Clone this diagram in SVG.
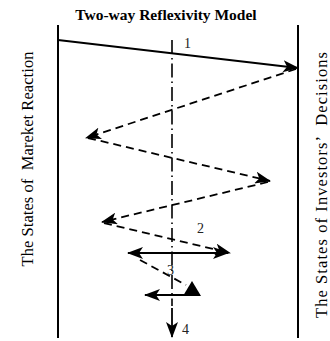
<svg xmlns="http://www.w3.org/2000/svg" width="330" height="341" viewBox="0 0 330 341">
<style>
.t{font-family:"Liberation Serif","Times New Roman",serif;fill:#000;white-space:pre}
.lbl{font-family:"Liberation Serif","Times New Roman",serif;font-size:14px;fill:#222}
.ax{stroke:#000;stroke-width:2;fill:none}
.sol{stroke:#000;stroke-width:1.8;fill:none}
.dsh{stroke:#000;stroke-width:1.8;fill:none;stroke-dasharray:8 5}
.cen{stroke:#000;stroke-width:1.6;fill:none;stroke-dasharray:14 4 1.5 4}
</style>
<defs>
<marker id="ah" markerUnits="userSpaceOnUse" markerWidth="16" markerHeight="12" refX="15" refY="6" orient="auto">
<path d="M0,0 L16,6 L0,12 L4,6 z" fill="#000"/>
</marker>
</defs>
<text class="t" x="166" y="20" font-size="15.5" font-weight="bold" text-anchor="middle">Two-way Reflexivity Model</text>
<g id="left-axis">
<line class="ax" x1="58" y1="25" x2="58" y2="338"/>
<text class="t" xml:space="preserve" font-size="16.5" text-anchor="middle" textLength="215" lengthAdjust="spacing" transform="translate(33,159) rotate(-90)">The States of  Mareket Reaction</text>
</g>
<g id="right-axis">
<line class="ax" x1="298" y1="25" x2="298" y2="338"/>
<text class="t" xml:space="preserve" font-size="16.5" text-anchor="middle" textLength="266" lengthAdjust="spacing" transform="translate(327,185) rotate(-90)">The States of Investors’  Decisions</text>
</g>
<g id="center-axis">
<line class="cen" x1="172" y1="40" x2="172" y2="306"/>
</g>
<g id="connectors">
<line class="sol" x1="58" y1="40" x2="298" y2="68" marker-end="url(#ah)"/>
<line class="dsh" x1="296" y1="69" x2="86" y2="138" marker-end="url(#ah)"/>
<line class="dsh" x1="88" y1="138" x2="270" y2="181" marker-end="url(#ah)"/>
<line class="dsh" x1="268" y1="182" x2="102" y2="222" marker-end="url(#ah)"/>
<line class="dsh" x1="104" y1="223" x2="230" y2="253" marker-end="url(#ah)"/>
<line class="sol" x1="172" y1="253" x2="128" y2="253" marker-end="url(#ah)"/>
<line class="sol" x1="172" y1="253" x2="228" y2="253" marker-end="url(#ah)"/>
<line class="dsh" x1="140" y1="260" x2="186" y2="285"/>
<path d="M192,281 L201,296 L183,296 z" fill="#000"/>
<line class="sol" x1="200" y1="295" x2="145" y2="295" marker-end="url(#ah)"/>
<line class="sol" x1="172" y1="308" x2="172" y2="337" marker-end="url(#ah)"/>
</g>
<text class="lbl" x="184" y="48">1</text>
<text class="lbl" x="197" y="233">2</text>
<text class="lbl" x="167" y="275">3</text>
<text class="lbl" x="182" y="334">4</text>
</svg>
